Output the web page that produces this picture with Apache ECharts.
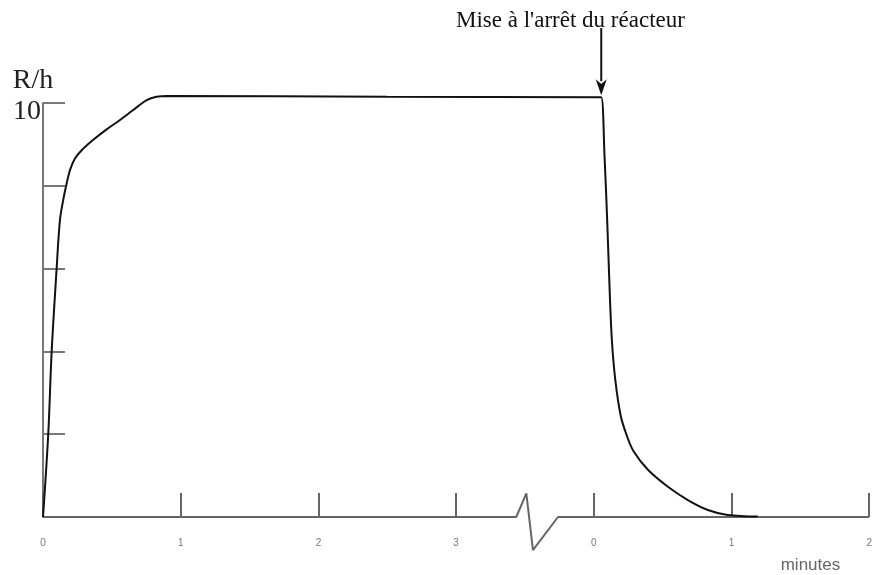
<!DOCTYPE html>
<html>
<head>
<meta charset="utf-8">
<script src="https://cdn.jsdelivr.net/npm/echarts@6/dist/echarts.min.js"></script>
<style>html,body{margin:0;padding:0;background:#fff}#c{width:875px;height:575px}</style>
</head>
<body>
<div id="c"></div>
<script>
// Continuous time scale: 0..3.x = before shutdown, 4..6 = 0..2 minutes after shutdown
var xTickLabels = ['0', '1', '2', '3', '0', '1', '2'];
var yTickLabelShown = 10;
var curveX = [0, 0.038, 0.063, 0.099, 0.123, 0.147, 0.172, 0.196, 0.232, 0.281, 0.365, 0.457, 0.559, 0.655, 0.753, 0.825, 0.898, 2.5, 4.03, 4.054,
              4.078, 4.098, 4.115, 4.131, 4.156, 4.195, 4.238, 4.29, 4.393, 4.538, 4.683, 4.828, 4.973, 5.19];
var curveY = [0, 2, 4, 6, 7.17, 7.66, 8.06, 8.38, 8.66, 8.86, 9.11, 9.35, 9.59, 9.83, 10.07, 10.15, 10.17, 10.15, 10.14, 10.14,
              8.70, 7.09, 5.48, 4.28, 3.31, 2.45, 1.98, 1.58, 1.14, 0.73, 0.41, 0.17, 0.05, 0.01];
var axisBreakX = [0, 3.437, 3.51, 3.558, 3.74, 6];
var axisBreakY = [0, 0, 0.57, -0.8, 0, 0];
var shutdownX = 4.054;
var arrowFromY = 11.81, arrowTipY = 10.19;
var titleText = "Mise à l'arrêt du réacteur";

function zip(a, b) { return a.map(function (v, i) { return [v, b[i]]; }); }

var chart = echarts.init(document.getElementById('c'), null, {renderer: 'canvas'});
chart.setOption({
  animation: false,
  backgroundColor: '#fff',
  title: {
    text: titleText, left: 451, top: 4,
    textStyle: {fontFamily: 'Liberation Serif', fontSize: 23, fontWeight: 'normal', color: '#111'}
  },
  grid: {left: 43, right: 5, top: 103, bottom: 58, containLabel: false},
  xAxis: {
    type: 'value', min: 0, max: 6, interval: 1,
    axisLine: {show: false},
    axisTick: {show: true, inside: true, length: 24, lineStyle: {color: '#666', width: 2}},
    axisLabel: {margin: 21, fontSize: 10, color: '#777', fontFamily: 'Liberation Sans',
      formatter: function (v) { return xTickLabels[Math.round(v)]; }},
    splitLine: {show: false},
    name: 'minutes', nameLocation: 'end', nameGap: -29,
    nameTextStyle: {fontFamily: 'Liberation Sans', fontSize: 17, color: '#666', align: 'right', verticalAlign: 'top', padding: [40, 0, 0, 0]}
  },
  yAxis: {
    type: 'value', min: 0, max: 10, interval: 2,
    axisLine: {show: true, lineStyle: {color: '#777', width: 2}},
    axisTick: {show: true, inside: true, length: 22, lineStyle: {color: '#777', width: 2}},
    axisLabel: {margin: 2, fontSize: 28, color: '#222', fontFamily: 'Liberation Serif', verticalAlign: 'top', lineHeight: 18,
      formatter: function (v) { return v === yTickLabelShown ? String(v) : ''; }},
    splitLine: {show: false},
    name: 'R/h', nameLocation: 'end', nameGap: 8,
    nameTextStyle: {fontFamily: 'Liberation Serif', fontSize: 28, color: '#222', padding: [0, 20, 0, 0]}
  },
  series: [
    {
      name: 'axisBreak', type: 'line', data: zip(axisBreakX, axisBreakY),
      symbol: 'none', clip: false, silent: true,
      lineStyle: {color: '#666', width: 2}
    },
    {
      name: 'R/h', type: 'line', data: zip(curveX, curveY),
      symbol: 'none', smooth: 0.35, clip: false,
      lineStyle: {color: '#111', width: 2}
    }
  ]
});

// Shutdown arrow, placed through the chart's own scales
var pTop = chart.convertToPixel({gridIndex: 0}, [shutdownX, arrowFromY]);
var pTip = chart.convertToPixel({gridIndex: 0}, [shutdownX, arrowTipY]);
var headH = 16, headW = 11;
chart.setOption({
  graphic: [
    {type: 'line', silent: true, shape: {x1: pTop[0], y1: pTop[1], x2: pTip[0], y2: pTip[1] - headH + 2},
     style: {stroke: '#111', lineWidth: 2}},
    {type: 'polygon', silent: true,
     shape: {points: [[pTip[0], pTip[1]], [pTip[0] - headW / 2, pTip[1] - headH], [pTip[0], pTip[1] - headH * 0.7], [pTip[0] + headW / 2, pTip[1] - headH]]},
     style: {fill: '#111'}}
  ]
});
</script>
</body>
</html>
